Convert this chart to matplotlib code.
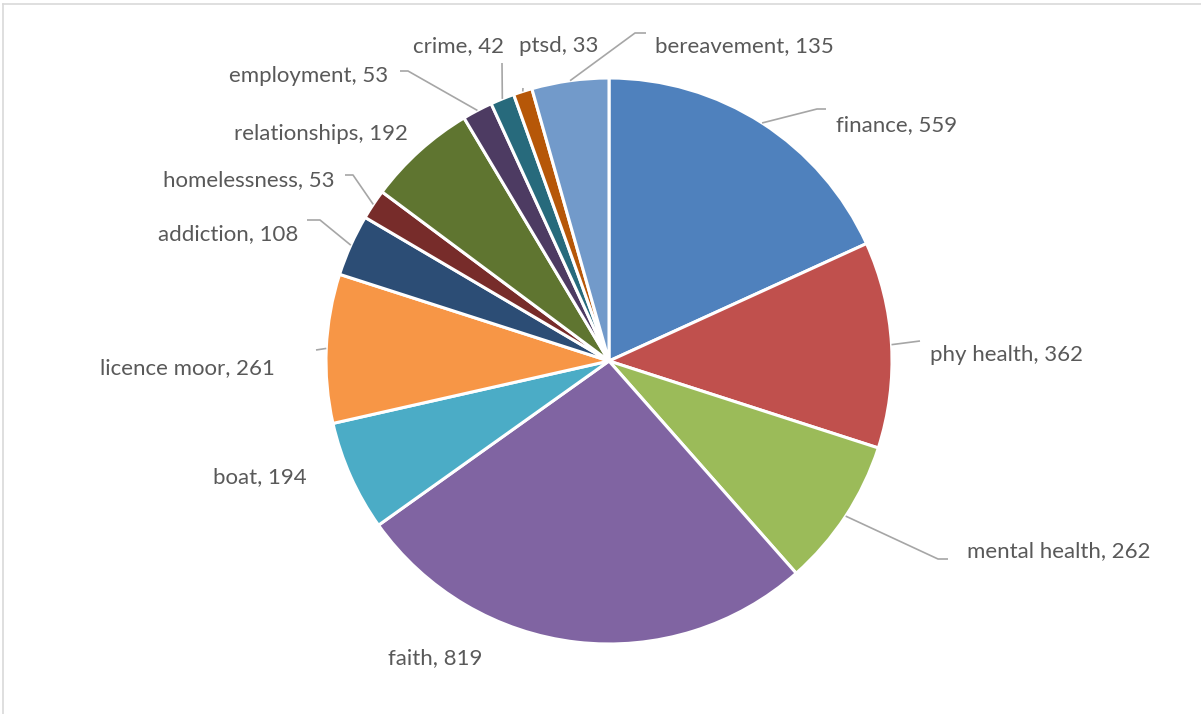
import matplotlib
matplotlib.use("Agg")
import matplotlib.pyplot as plt
import numpy as np

categories = ["finance", "phy health", "mental health", "faith", "boat",
              "licence moor", "addiction", "homelessness", "relationships",
              "employment", "crime", "ptsd", "bereavement"]
values = [559, 362, 262, 819, 194, 261, 108, 53, 192, 53, 42, 33, 135]
colors = ["#4F81BD", "#C0504D", "#9BBB59", "#8064A2", "#4BACC6", "#F79646",
          "#2C4D75", "#772C2A", "#5F7530", "#4D3B62", "#276A7C", "#B65708",
          "#729ACA"]

# label layout (pixel coords: left x, center y) and optional leader elbows
label_pos = {
    "finance": (836, 125), "phy health": (930, 355), "mental health": (967, 551),
    "faith": (388, 658), "boat": (213, 477), "licence moor": (100, 368),
    "addiction": (158, 234), "homelessness": (163, 180),
    "relationships": (234, 134), "employment": (229, 76), "crime": (413, 46),
    "ptsd": (519, 46), "bereavement": (655, 46),
}
leaders = {
    "finance": [(826, 109), (817, 109)],
    "phy health": [(920, 341)],
    "mental health": [(948, 559), (938, 559)],
    "addiction": [(307, 220), (320, 220)],
    "homelessness": [(345, 175), (353, 175)],
    "employment": [(400, 71), (408, 71)],
    "crime": [(502, 63)],
    "bereavement": [(646, 33), (635, 33)],
    "licence moor": [(316, 350)],
    "ptsd": [(523, 88)],
}

W, H = 1201, 714
fig = plt.figure(figsize=(W / 100, H / 100), dpi=100)
ax = fig.add_axes([0, 0, 1, 1])

cx, cy, r = 609, H - 361, 283
wedges, _ = ax.pie(values, colors=colors, startangle=90, counterclock=False,
                   center=(cx, cy), radius=r, frame=True,
                   wedgeprops=dict(edgecolor="white", linewidth=2.2))
ax.set_xlim(0, W)
ax.set_ylim(0, H)
ax.axis("off")

txt_color = "#595959"
line_color = "#A6A6A6"
for name, val, w in zip(categories, values, wedges):
    x, y = label_pos[name]
    ax.text(x, H - y, f"{name}, {val}", fontsize=16, color=txt_color,
            family="Lato", ha="left", va="center")
    if name in leaders:
        ang = np.deg2rad((w.theta1 + w.theta2) / 2)
        sx, sy = cx + r * np.cos(ang), cy + r * np.sin(ang)
        pts = [(px, H - py) for px, py in leaders[name]]
        xs = [p[0] for p in pts] + [sx]
        ys = [p[1] for p in pts] + [sy]
        ax.plot(xs, ys, color=line_color, lw=1.2, solid_capstyle="butt")

# chart border (top and left visible)
fig.add_artist(plt.Line2D([3 / W, 1], [1 - 4 / H, 1 - 4 / H],
                          transform=fig.transFigure, color="#D9D9D9", lw=1.2))
fig.add_artist(plt.Line2D([3 / W, 3 / W], [0, 1 - 4 / H],
                          transform=fig.transFigure, color="#D9D9D9", lw=1.2))

fig.savefig("out.png", dpi=100, facecolor="white")
